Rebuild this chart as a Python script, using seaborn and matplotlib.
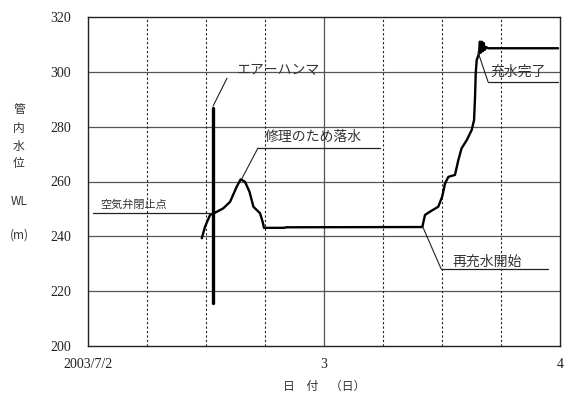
import matplotlib
matplotlib.use("Agg")
import matplotlib.pyplot as plt
import seaborn as sns
import pandas as pd

# ---- data (hours from 2003/7/2 00:00, water level WL m) ----
hours = [11.57, 11.9, 12.41, 12.91, 13.75, 14.45, 15.12, 15.53, 15.96, 16.42,
         16.82, 17.5, 17.76, 17.9, 19.9, 20.2, 34.0, 34.27, 34.78, 35.62,
         36.02, 36.31, 36.65, 37.32, 37.66, 37.99, 38.52, 39.02, 39.26, 39.36,
         39.43, 39.53, 39.77, 39.85, 39.95, 40.05, 40.15, 40.25, 40.35, 40.5,
         40.7, 47.8]
level = [239.3, 243.5, 247.8, 248.6, 250.2, 252.6, 258.1, 260.8, 259.9, 256.3,
         250.8, 248.4, 245.3, 243.1, 243.1, 243.3, 243.4, 247.8, 249.0, 250.8,
         254.5, 259.3, 261.7, 262.4, 267.8, 272.1, 275.1, 278.8, 282.4, 290.9,
         299.5, 304.3, 306.8, 311.0, 307.0, 311.0, 307.5, 310.5, 308.0, 309.0,
         308.6, 308.6]
hammer_hours = [12.67, 12.67]
hammer_level = [286.7, 215.6]

yticks = [200, 220, 240, 260, 280, 300, 320]
xticks = [0, 24, 48]
xticklabels = ["2003/7/2", "3", "4"]

# annotations: text, text pos, point, elbow, underline end
notes = [
    ("エアーハンマ", (15.15, 300.7), (12.72, 287.5), (14.14, 297.7), None, 10),
    ("修理のため落水", (18.0, 276.2), (15.67, 261.2), (17.28, 272.2), 29.7, 10),
    ("空気弁閉止点", (1.22, 251.4), None, (0.51, 248.5), 12.41, 8),
    ("再充水開始", (37.1, 230.6), (34.05, 243.4), (35.9, 228.2), 46.78, 10),
    ("充水完了", (40.9, 299.9), (39.66, 307.2), (40.68, 296.4), 47.8, 10),
]

df = pd.DataFrame({"hours": hours, "level": level})
dh = pd.DataFrame({"hours": hammer_hours, "level": hammer_level})

sns.set_theme(style="white")
plt.rcParams["font.family"] = ["Noto Sans CJK JP", "DejaVu Sans"]

fig = plt.figure(figsize=(5.68, 3.96), dpi=100)
ax = fig.add_axes([88/568, 1-346/396, (560-88)/568, (346-17)/396])

ax.set_xlim(0, 48)
ax.set_ylim(200, 320)
ax.set_yticks(yticks)
ax.set_xticks(xticks)
ax.set_xticks([6, 12, 18, 30, 36, 42], minor=True)
ax.set_xticklabels(xticklabels, family="Liberation Serif", fontsize=10, color="#222")
ax.set_yticklabels([str(v) for v in yticks], family="Liberation Serif", fontsize=10, color="#222")
ax.tick_params(axis="both", which="both", length=0)
ax.tick_params(axis="y", pad=12)
ax.tick_params(axis="x", pad=9)

ax.grid(False)
for v in yticks[1:-1]:
    ax.axhline(v, color="#555555", lw=0.9, zorder=1)
ax.axvline(24, color="#555555", lw=0.9, zorder=1)
for v in [6, 12, 18, 30, 36, 42]:
    ax.axvline(v, color="#222222", lw=0.8, ls=(0, (2, 2)), zorder=1)

for s in ax.spines.values():
    s.set_color("#222")
    s.set_linewidth(1.0)

sns.lineplot(data=df, x="hours", y="level", sort=False, color="black",
             lw=1.7, ax=ax, zorder=3, estimator=None)
sns.lineplot(data=dh, x="hours", y="level", sort=False, color="black",
             lw=2.4, ax=ax, zorder=3, estimator=None)

for text, tpos, pt, elbow, uend, fs in notes:
    ax.text(tpos[0], tpos[1], text, fontsize=fs, color="#333",
            ha="left", va="center", zorder=4)
    if pt is not None:
        ax.plot([pt[0], elbow[0]], [pt[1], elbow[1]], color="#222", lw=0.8, zorder=4)
    if uend is not None:
        ax.plot([elbow[0], uend], [elbow[1], elbow[1]], color="#222", lw=0.9, zorder=4)

ax.set_xlabel("日　付　（日）", fontsize=8.5, color="#333", labelpad=6)
ax.set_ylabel("")
ylab = [("管", 110), ("内", 128), ("水", 146), ("位", 164), ("WL", 202), ("(m)", 235)]
for t, py in ylab:
    fig.text(19/568, 1-py/396, t, fontsize=8.5, color="#333", ha="center", va="center")

fig.savefig("out.png", dpi=100)
